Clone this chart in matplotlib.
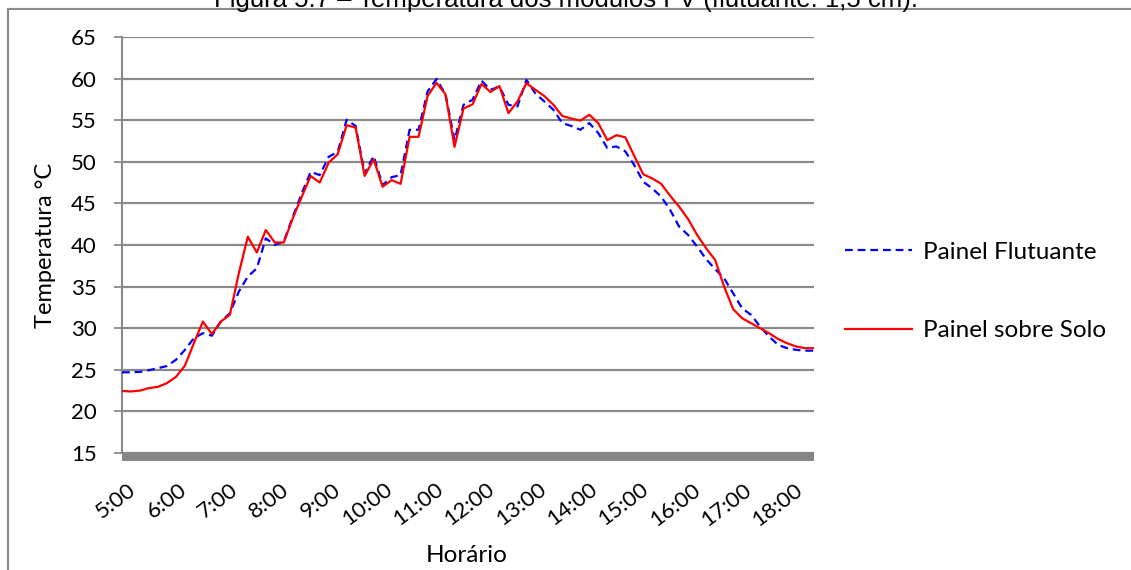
import matplotlib.pyplot as plt
from matplotlib.lines import Line2D
from matplotlib.transforms import ScaledTranslation

# readings roughly every 10.5 min starting at 5:00
start_hour = 5.0
step_min = 10.5

flutuante = [24.7, 24.7, 24.75, 24.95, 25.2, 25.45, 26.2, 27.4, 28.8, 29.4,
             29.1, 30.8, 31.8, 34.4, 36.2, 37.2, 40.8, 40.0, 40.4, 43.4,
             46.2, 48.8, 48.4, 50.6, 51.2, 55.05, 54.3, 48.6, 50.7, 47.2,
             48.15, 48.4, 53.85, 53.85, 58.45, 59.95, 58.1, 52.6, 56.85, 57.45,
             59.75, 58.65, 59.05, 56.85, 56.65, 59.85, 58.2, 57.25, 56.25, 54.65,
             54.3, 53.85, 54.65, 53.45, 51.65, 51.85, 51.25, 49.6, 47.6, 46.8,
             45.8, 44.2, 42.2, 41.2, 39.8, 38.3, 37.1, 36.0, 34.2, 32.4,
             31.6, 30.2, 29.0, 28.0, 27.6, 27.4, 27.3, 27.3]

solo = [22.45, 22.4, 22.5, 22.8, 22.95, 23.4, 24.15, 25.5, 28.2, 30.8,
        29.3, 30.8, 31.6, 36.6, 41.0, 39.1, 41.8, 40.3, 40.3, 43.2,
        45.8, 48.3, 47.5, 49.9, 50.9, 54.4, 54.1, 48.3, 50.3, 47.0,
        47.8, 47.35, 53.0, 53.0, 57.9, 59.5, 58.1, 51.8, 56.4, 56.9,
        59.35, 58.4, 59.1, 55.85, 57.25, 59.45, 58.65, 57.9, 56.85, 55.5,
        55.2, 54.95, 55.65, 54.65, 52.6, 53.2, 52.95, 50.7, 48.5, 48.0,
        47.35, 45.9, 44.6, 43.1, 41.2, 39.6, 38.2, 35.0, 32.3, 31.2,
        30.6, 30.0, 29.4, 28.7, 28.2, 27.8, 27.6, 27.6]

hours = list(range(5, 19))
hour_labels = [f'{h}:00' for h in hours]

x = [start_hour + i * step_min / 60 for i in range(len(solo))]

plt.rcParams['font.family'] = ['Lato', 'DejaVu Sans']

fig = plt.figure(figsize=(11.31, 5.70), dpi=100)
ax = fig.add_axes([122 / 1131, 1 - 453 / 570, 692 / 1131, 416 / 570])

grid_c = '#898989'
ax.plot(x, flutuante, color='#0000FF', lw=1.6, ls=(0, (3.5, 2.2)),
        label='Painel Flutuante', zorder=3)
ax.plot(x, solo, color='#FF0000', lw=1.6, label='Painel sobre Solo', zorder=4)

ax.set_xlim(x[0], x[-1])
ax.set_ylim(15, 65)
ax.set_yticks(range(15, 70, 5))
ax.grid(axis='y', color=grid_c, lw=1.6)
ax.set_axisbelow(True)

for s in ['top', 'right']:
    ax.spines[s].set_visible(False)
ax.spines['left'].set_color(grid_c)
ax.spines['left'].set_linewidth(1.5)
ax.spines['bottom'].set_color('#868686')
ax.spines['bottom'].set_linewidth(5.8)
ax.spines['bottom'].set_position(('outward', 3))
ax.spines['bottom'].set_capstyle('butt')
ax.spines['bottom'].set_zorder(5)

ax.tick_params(axis='y', length=6, width=1.3, color=grid_c, pad=12,
               labelsize=16, labelcolor='#000000')
ax.set_xticks(hours)
ax.set_xticklabels(hour_labels)
ax.tick_params(axis='x', length=0, pad=16, labelsize=16)
for lab in ax.get_xticklabels():
    lab.set_rotation(37)
    lab.set_ha('right')
    lab.set_va('top')
    lab.set_rotation_mode('anchor')
    lab.set_transform(lab.get_transform() + ScaledTranslation(5 / 100, 0, fig.dpi_scale_trans))

ax.set_ylabel('Temperatura °C', fontsize=17)
ax.yaxis.set_label_coords(-0.095, 0.5)
fig.text(467 / 1131, 1 - 556 / 570, 'Horário', fontsize=17.5, ha='center', va='center')

fig.legend(loc='center left', bbox_to_anchor=(845 / 1131, 1 - 291.5 / 570),
           frameon=False, fontsize=17.5, handlelength=2.75, handletextpad=0.45,
           labelspacing=2.35, borderpad=0, borderaxespad=0)

# outer frame of the figure box
fig.add_artist(Line2D([8 / 1131, 1.0], [1 - 9 / 570, 1 - 9 / 570],
                      transform=fig.transFigure, color='#8a8a8a', lw=1.5))
fig.add_artist(Line2D([8 / 1131, 8 / 1131], [0, 1 - 9 / 570],
                      transform=fig.transFigure, color='#8a8a8a', lw=1.5))

fig.text(0.5, 1 - 7 / 570, 'Figura 5.7 – Temperatura dos módulos FV (flutuante: 1,5 cm).',
         fontsize=18.5, ha='center', va='baseline', family='Liberation Sans')

fig.savefig('out.png', dpi=100)
